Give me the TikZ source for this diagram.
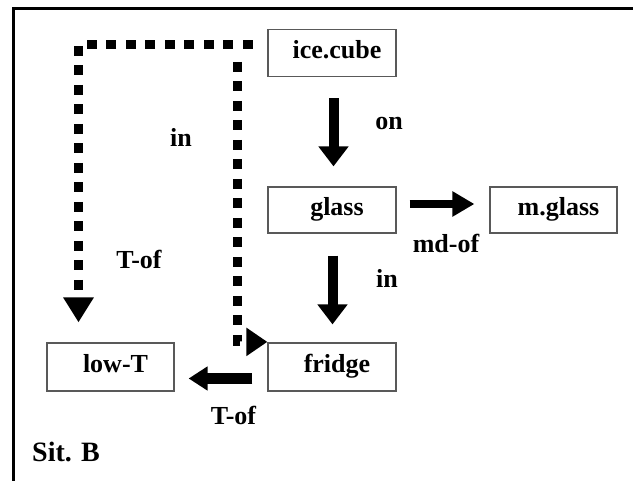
\documentclass[tikz,border=0pt]{standalone}
\usepackage{fontspec}
\setmainfont{Liberation Serif}
\usetikzlibrary{arrows.meta}
\begin{document}
\begin{tikzpicture}[x=1pt,y=-1pt,
  every node/.style={font=\fontsize{26pt}{30pt}\selectfont\bfseries},
  cbox/.style={draw=black!65, line width=1.2pt, minimum width=128pt, minimum height=47pt,
    inner sep=0pt, text height=17pt, text depth=5pt, execute at begin node=\hspace*{10pt}},
  lbl/.style={anchor=base, inner sep=0pt},
  bigarrow/.style={line width=10pt, -{Triangle[length=20pt,width=29pt]}},
  dotarrow/.style={line width=9pt, dash pattern=on 10pt off 9.5pt, -{Triangle[length=23pt,width=28pt]}}
]
\useasboundingbox (0,0) rectangle (633,481);
\draw[line width=3pt] (633,8.5) -- (13.5,8.5) -- (13.5,481);

\node[cbox] (ice) at (332,53) {ice.cube};
\node[cbox, minimum height=46pt] (glass) at (332,210) {glass};
\node[cbox, minimum height=46pt, minimum width=127pt] (mglass) at (553.5,210) {m.glass};
\node[cbox, minimum height=48pt] (fridge) at (332,367) {fridge};
\node[cbox, minimum height=48pt, minimum width=127pt] (lowT) at (110.5,367) {low-T};

\draw[bigarrow] ([shift={(1.5pt,-21pt)}]ice.south) -- ([shift={(1.5pt,20pt)}]glass.north);
\draw[bigarrow, line width=8.5pt, -{Triangle[length=22pt,width=24pt]}] ([shift={(13pt,6pt)}]glass.east) -- ([shift={(-15pt,6pt)}]mglass.west);
\draw[bigarrow] ([shift={(0.5pt,-22pt)}]glass.south) -- ([shift={(0.5pt,18pt)}]fridge.north);
\draw[bigarrow, line width=11pt, -{Triangle[length=19pt,width=23pt]}] ([shift={(-15pt,-11.5pt)}]fridge.west) -- ([shift={(14pt,-11.5pt)}]lowT.east);

\coordinate (s) at (252.5,44.5);
\coordinate (b) at (237,62);
\draw[dotarrow, -{Triangle[length=25pt,width=29pt]}] (s) -| ([shift={(-32pt,20pt)}]lowT.north);
\draw[dotarrow, -{Triangle[length=21pt,width=27pt]}] (b) |- ([yshift=0.5pt]fridge.north west);

\node[lbl] (on) at (389,130) {on};
\node[lbl] (in1) at (181,147) {in};
\node[lbl] (mdof) at (446,253) {md-of};
\node[lbl] (in2) at (387,288) {in};
\node[lbl] (tof1) at (139,269) {T-of};
\node[lbl] (tof2) at (233.5,425) {T-of};
\node[lbl, anchor=base west, font=\fontsize{28pt}{32pt}\selectfont\bfseries] (sit) at (32,462) {Sit. B};
\end{tikzpicture}
\end{document}
